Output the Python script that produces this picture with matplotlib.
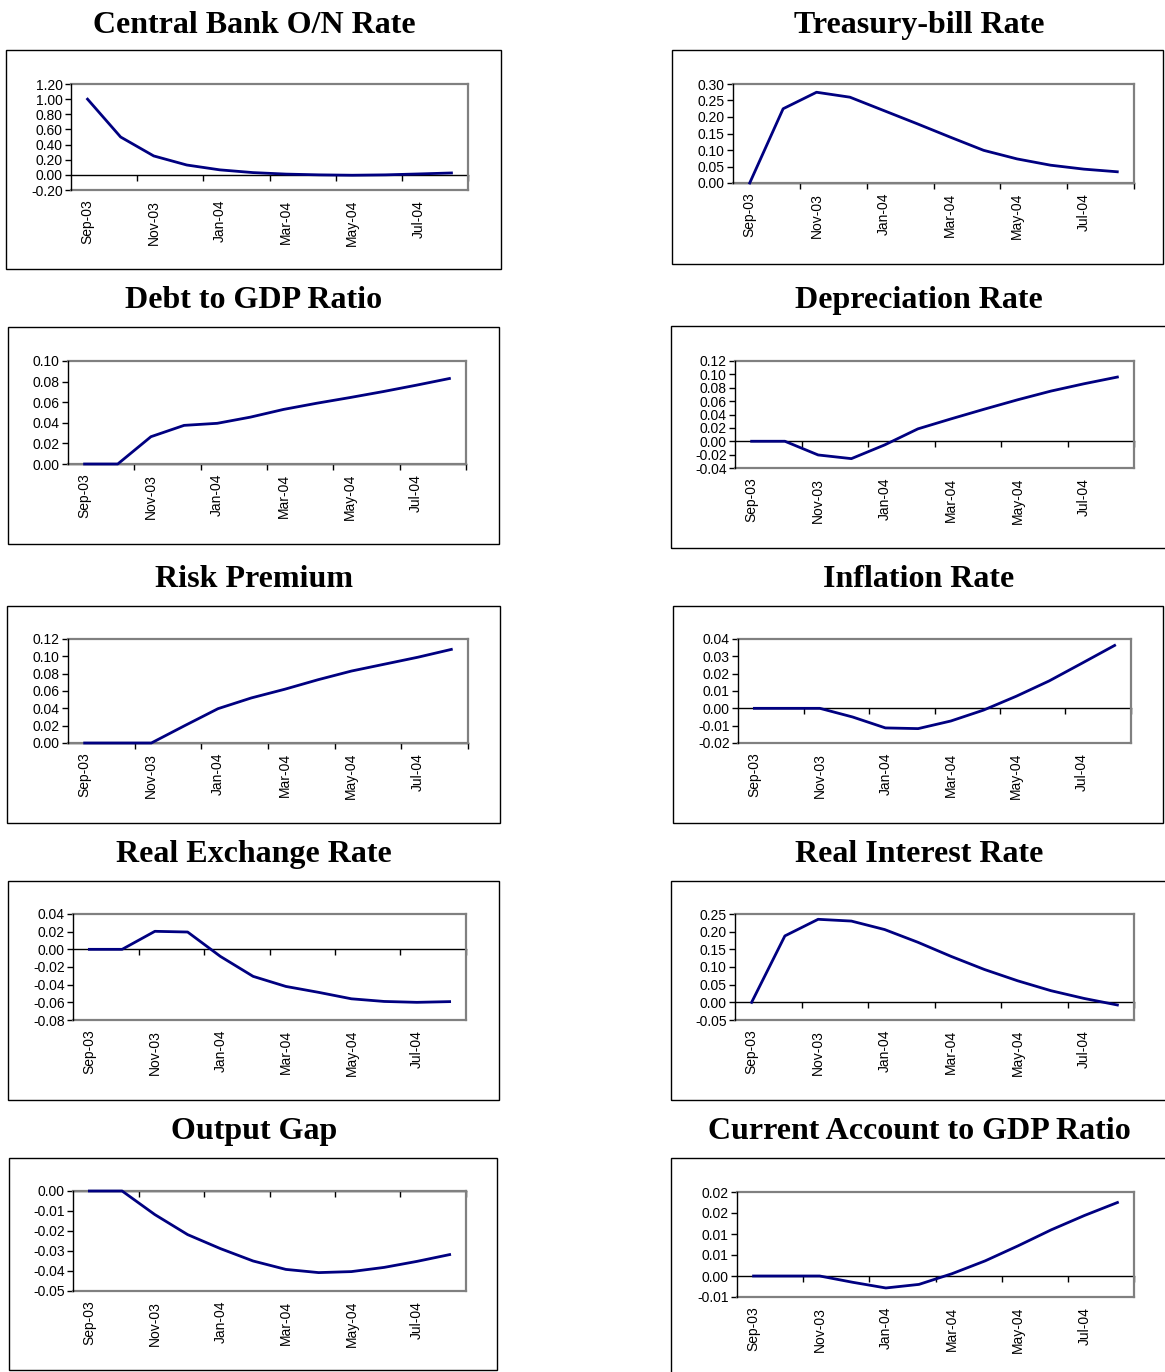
import numpy as np
import matplotlib.pyplot as plt
from matplotlib.patches import Rectangle
from matplotlib.ticker import MultipleLocator, FuncFormatter

# impulse responses, Sep-03 .. Aug-04, one value per month
W, H = 1165, 1372
NAVY = "#000080"
GREY = "#808080"

months = ["Sep-03", "Oct-03", "Nov-03", "Dec-03", "Jan-04", "Feb-04",
          "Mar-04", "Apr-04", "May-04", "Jun-04", "Jul-04", "Aug-04"]

titles = ["Central Bank O/N Rate", "Treasury-bill Rate",
          "Debt to GDP Ratio", "Depreciation Rate",
          "Risk Premium", "Inflation Rate",
          "Real Exchange Rate", "Real Interest Rate",
          "Output Gap", "Current Account to GDP Ratio"]

cb_rate   = [1.00, 0.50, 0.25, 0.13, 0.066, 0.03, 0.01, 0.0, -0.005, 0.0, 0.012, 0.025]
tbill     = [0.0, 0.225, 0.275, 0.26, 0.22, 0.18, 0.139, 0.099, 0.073, 0.054, 0.042, 0.034]
debt_gdp  = [0.0, 0.0, 0.0265, 0.0375, 0.0395, 0.0455, 0.053, 0.059, 0.0645, 0.0703, 0.0765, 0.083]
deprec    = [0.0, 0.0, -0.0205, -0.026, -0.0055, 0.0185, 0.0335, 0.048, 0.062, 0.075, 0.086, 0.096]
risk_prem = [0.0, 0.0, 0.0, 0.02, 0.0396, 0.052, 0.062, 0.073, 0.083, 0.091, 0.099, 0.108]
inflation = [0.0, 0.0, 0.0, -0.005, -0.0113, -0.0117, -0.0073, -0.001, 0.007, 0.0158, 0.026, 0.0363]
real_exch = [0.0, 0.0, 0.0204, 0.0196, -0.008, -0.0306, -0.042, -0.0487, -0.056, -0.059, -0.060, -0.0592]
real_int  = [0.0, 0.188, 0.235, 0.23, 0.206, 0.17, 0.13, 0.093, 0.061, 0.033, 0.011, -0.0075]
out_gap   = [0.0, 0.0, -0.0118, -0.0218, -0.0288, -0.035, -0.0392, -0.0408, -0.0403, -0.0382, -0.0352, -0.0318]
ca_gdp    = [0.0, 0.0, 0.0, -0.0015, -0.00285, -0.002, 0.00055, 0.0036, 0.0072, 0.011, 0.0144, 0.0175]

series = [cb_rate, tbill, debt_gdp, deprec, risk_prem,
          inflation, real_exch, real_int, out_gap, ca_gdp]

# value axis: (min, max, step)
yaxes = [(-0.2, 1.2, 0.2), (0.0, 0.30, 0.05),
         (0.0, 0.10, 0.02), (-0.04, 0.12, 0.02),
         (0.0, 0.12, 0.02), (-0.02, 0.04, 0.01),
         (-0.08, 0.04, 0.02), (-0.05, 0.25, 0.05),
         (-0.05, 0.0, 0.01), (-0.005, 0.02, 0.005)]
ca_labels = ["-0.01", "0.00", "0.01", "0.01", "0.02", "0.02"]

# layout in pixels: outer frame and plot area (x0, y0, x1, y1)
frames = [(6, 50, 501, 269), (672, 50, 1163, 264),
          (8, 327, 499, 544), (671, 326, 1167, 548),
          (7, 606, 500, 823), (673, 606, 1163, 823),
          (8, 881, 499, 1100), (671, 881, 1167, 1100),
          (9, 1158, 497, 1370), (671, 1158, 1167, 1374)]
plots = [(71, 84, 468, 190), (733, 84, 1134, 183),
         (68, 361, 466, 464), (735, 361, 1134, 468),
         (68, 639, 468, 743), (738, 639, 1131, 743),
         (73, 914, 466, 1020), (735, 914, 1134, 1020),
         (73, 1191, 466, 1291), (737, 1192, 1134, 1297)]
title_base = [33, 308, 587, 862, 1139]
title_x = [254, 919]

fig = plt.figure(figsize=(W / 100, H / 100), dpi=100)
fig.patch.set_facecolor("white")


def fx(x):
    return x / W


def fy(y):
    return 1 - y / H


fmt2 = FuncFormatter(lambda v, p: f"{round(v, 4) + 0:.2f}")
x = np.arange(len(months))

for i in range(10):
    row, col = divmod(i, 2)
    fx0, fy0, fx1, fy1 = frames[i]
    fig.patches.append(Rectangle((fx(fx0), fy(fy1)), fx(fx1) - fx(fx0), fy(fy0) - fy(fy1),
                                 transform=fig.transFigure, fill=False,
                                 edgecolor="black", lw=1.0))
    fig.text(fx(title_x[col]), fy(title_base[row]), titles[i], ha="center",
             va="baseline", family="Liberation Serif", fontweight="bold", fontsize=23)

    px0, py0, px1, py1 = plots[i]
    ax = fig.add_axes([fx(px0), fy(py1), fx(px1) - fx(px0), fy(py0) - fy(py1)])
    ax.plot(x, series[i], color=NAVY, lw=2.0, zorder=3, clip_on=False,
            solid_joinstyle="round")

    lo, hi, step = yaxes[i]
    ax.set_ylim(lo, hi)
    ax.set_xlim(-0.5, len(months) - 0.5)
    if i == 9:
        ax.set_yticks(np.linspace(lo, hi, len(ca_labels)), labels=ca_labels)
    else:
        ax.yaxis.set_major_locator(MultipleLocator(step))
        ax.yaxis.set_major_formatter(fmt2)

    ax.set_xticks(x[::2], labels=months[::2], rotation=90)
    ax.tick_params(axis="x", length=0, pad=7, labelsize=10)
    ax.tick_params(axis="y", direction="out", length=4, width=1, pad=2,
                   labelsize=10)
    for s in ("top", "right", "bottom"):
        ax.spines[s].set_color(GREY)
        ax.spines[s].set_linewidth(1.6)
    ax.spines["left"].set_color("black")
    ax.spines["left"].set_linewidth(1.0)
    ax.spines["left"].set_zorder(4)

    # category axis crossing at zero, tick marks every two months
    frac = (0 - lo) / (hi - lo)
    sec = ax.secondary_xaxis(frac)
    sec.set_alignment("bottom")
    sec.set_xticks(np.arange(1.5, len(months), 2))
    sec.tick_params(axis="x", direction="out", length=4, width=1,
                    labelbottom=False, labeltop=False)
    sec.spines["bottom"].set_color("black")
    sec.spines["bottom"].set_linewidth(1.0)

    for lab in ax.get_xticklabels() + ax.get_yticklabels():
        lab.set_family("Liberation Sans")

fig.savefig("out.png", dpi=100)
